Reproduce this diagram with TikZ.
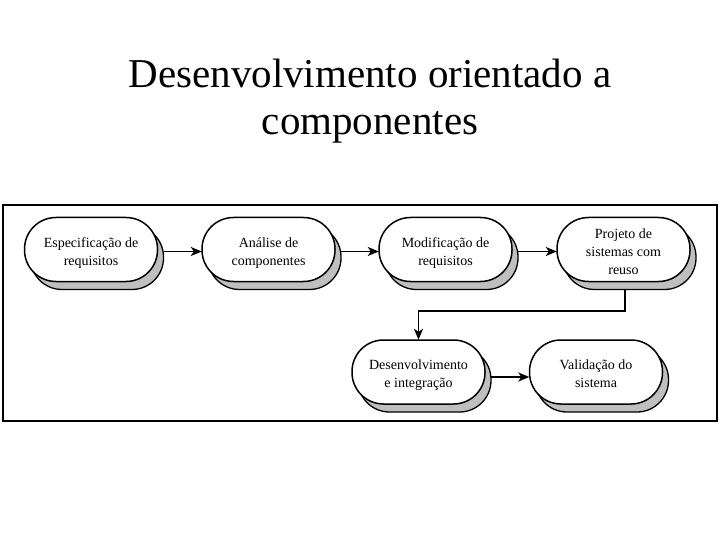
\documentclass[tikz,border=0pt]{standalone}
\usepackage{fontspec}
\setmainfont{Liberation Serif}
\usetikzlibrary{arrows.meta}
\newcommand\stadpath{[rounded corners=31.5pt] (-66.5,-32) rectangle (66.5,32)}
\newcommand\procbox[4]{%
  \begin{scope}[shift={(#2,#3)}]
    \begin{scope}[shift={(6,8)}]
      \draw[line width=1.3pt, fill=gray!50] \stadpath;
    \end{scope}
    \draw[line width=1.5pt, fill=white] \stadpath;
  \end{scope}
  \node[proctext] (#1) at (#2,#3) {#4};}
\begin{document}
\begin{tikzpicture}[x=1pt,y=-1pt,
  proctext/.style={minimum width=133pt, minimum height=64pt, inner sep=0pt, align=center,
    text depth=0pt, font=\fontsize{14}{18}\selectfont, yshift=-2pt},
  flow/.style={line width=1.6pt, -{Stealth[length=11pt,width=9pt,inset=3pt]}}]
\useasboundingbox (0,0) rectangle (720,540);
\node[font=\fontsize{41}{47}\selectfont, align=center] (title) at (370,101)
  {Desenvolvimento orientado a\\componentes};
\draw[line width=2pt] (3,205) rectangle (717,421);
\procbox{n1}{91}{249.5}{Especificação de\\requisitos}
\procbox{n2}{268.5}{249.5}{Análise de\\componentes}
\procbox{n3}{445.5}{249.5}{Modificação de\\requisitos}
\procbox{n4}{623.5}{249.5}{Projeto de\\sistemas com\\reuso}
\procbox{n5}{418.5}{372}{Desenvolvimento\\e integração}
\procbox{n6}{596}{372}{Validação do\\sistema}
\draw[flow] ([xshift=6pt]n1.east) -- (n2.west);
\draw[flow] ([xshift=6pt]n2.east) -- (n3.west);
\draw[flow] ([xshift=6pt]n3.east) -- (n4.west);
\draw[flow] ([xshift=1.5pt,yshift=-6.5pt]n4.south) -- ++(0,21) -| ([yshift=2pt]n5.north);
\draw[flow] ([xshift=6pt,yshift=-3pt]n5.east) -- ([yshift=-3pt]n6.west);
\end{tikzpicture}
\end{document}
